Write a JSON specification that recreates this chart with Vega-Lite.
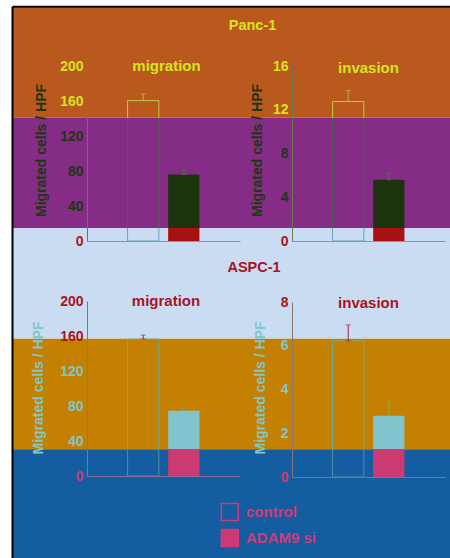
{
  "$schema": "https://vega.github.io/schema/vega-lite/v6.json",
  "width": 450,
  "height": 558,
  "autosize": "none",
  "padding": 0,
  "background": "white",
  "datasets": {
    "cells": [
      {"line": "Panc-1", "assay": "migration", "group": "control", "value": 160.5, "upper": 168},
      {"line": "Panc-1", "assay": "migration", "group": "ADAM9 si", "value": 76, "upper": 81},
      {"line": "Panc-1", "assay": "invasion", "group": "control", "value": 12.75, "upper": 13.75},
      {"line": "Panc-1", "assay": "invasion", "group": "ADAM9 si", "value": 5.6, "upper": 6.25},
      {"line": "ASPC-1", "assay": "migration", "group": "control", "value": 156.5, "upper": 161},
      {"line": "ASPC-1", "assay": "migration", "group": "ADAM9 si", "value": 74.7, "upper": 76.8},
      {"line": "ASPC-1", "assay": "invasion", "group": "control", "value": 6.22, "upper": 6.95},
      {"line": "ASPC-1", "assay": "invasion", "group": "ADAM9 si", "value": 2.8, "upper": 3.48}
    ],
    "bands": [{"band": 1}, {"band": 2}, {"band": 3}, {"band": 4}, {"band": 5}]
  },
  "data": {"name": "cells"},
  "config": {
    "view": {"stroke": null},
    "font": "Liberation Sans",
    "axis": {
      "labelFont": "Liberation Sans",
      "labelFontSize": 14,
      "labelFontWeight": "bold",
      "titleFont": "Liberation Sans",
      "titleFontSize": 14,
      "titleFontWeight": "bold",
      "ticks": false,
      "grid": false,
      "domainWidth": 1,
      "labelPadding": 4
    }
  },
  "resolve": {
    "scale": {"x": "independent", "y": "independent", "color": "independent"},
    "axis": {"x": "independent", "y": "independent"}
  },
  "layer": [
    {
      "data": {"name": "bands"},
      "mark": {"type": "bar"},
      "encoding": {
        "y": {
          "field": "band", "type": "ordinal",
          "scale": {"range": [7.2, 559.7], "paddingInner": 0, "paddingOuter": 0},
          "axis": {
            "orient": "left", "offset": -12, "labels": false, "zindex": 1,
            "domainColor": "black", "domainWidth": 2, "domainCap": "square",
            "title": "ASPC-1", "titleAngle": 0, "titleX": 241.5, "titleY": 267,
            "titleAlign": "center", "titleBaseline": "middle",
            "titleColor": "#A8141E", "titleFontSize": 14.5
          }
        },
        "x": {
          "datum": 0, "type": "quantitative",
          "scale": {"domain": [0, 1], "range": [13, 450]},
          "axis": {
            "orient": "top", "offset": -6.3, "labels": false, "zindex": 1,
            "domainColor": "black", "domainWidth": 2, "domainCap": "square",
            "title": "Panc-1", "titleX": 252, "titleY": 18.7,
            "titleAlign": "center", "titleBaseline": "middle",
            "titleColor": "#D6E41E", "titleFontSize": 14.5
          }
        },
        "x2": {"datum": 1},
        "color": {
          "field": "band", "type": "ordinal",
          "scale": {"range": ["#B9591E", "#852C87", "#CADCF2", "#C48000", "#145DA0"]},
          "legend": null
        }
      }
    },
    {
      "transform": [{"filter": "datum.line === 'Panc-1' && datum.assay === 'migration'"}],
      "encoding": {
        "x": {
          "field": "group", "type": "nominal",
          "scale": {"domain": ["control", "ADAM9 si"], "range": [87, 240], "paddingInner": 0.23, "paddingOuter": 1.15},
          "axis": {
            "orient": "bottom", "offset": -317, "labels": false, "zindex": 1, "domainColor": "#5CA6BE",
            "title": "migration", "titleX": 166, "titleY": -176, "titleAlign": "center",
            "titleBaseline": "middle", "titleColor": "#D6E41E", "titleFontSize": 15
          }
        },
        "y": {
          "field": "value", "type": "quantitative",
          "scale": {"domain": [0, 200], "range": [241, 66], "nice": false},
          "axis": {
            "orient": "left", "offset": -87, "values": [0, 40, 80, 120, 160, 200], "zindex": 1,
            "domainColor": "#6A7A48",
            "labelColor": {
              "condition": [
                {"test": "datum.value >= 140", "value": "#D6E41E"},
                {"test": "datum.value >= 15", "value": "#1C3810"}
              ],
              "value": "#A8141E"
            },
            "title": "Migrated cells / HPF", "titleColor": "#1C3810",
            "titleX": -46, "titleY": 150, "titleAlign": "center", "titleBaseline": "middle"
          }
        }
      },
      "layer": [
        {
          "transform": [{"filter": "datum.group === 'control'"}],
          "layer": [
            {"mark": {"type": "bar", "fill": "transparent", "strokeWidth": 1,
              "stroke": {"gradient": "linear", "x1": 0, "y1": 0, "x2": 0, "y2": 1, "stops": [
                {"offset": 0, "color": "#C2C84A"}, {"offset": 0.122, "color": "#C2C84A"},
                {"offset": 0.122, "color": "#4C6446"}, {"offset": 0.909, "color": "#4C6446"},
                {"offset": 0.909, "color": "#6AA2B8"}, {"offset": 1, "color": "#6AA2B8"}]}}},
            {"mark": {"type": "errorbar", "ticks": {"size": 5}, "color": "#B8C23C"},
             "encoding": {"y2": {"field": "upper"}}}
          ]
        },
        {
          "transform": [{"filter": "datum.group === 'ADAM9 si'"}],
          "layer": [
            {"mark": {"type": "bar",
              "fill": {"gradient": "linear", "x1": 0, "y1": 0, "x2": 0, "y2": 1, "stops": [
                {"offset": 0, "color": "#1C340E"}, {"offset": 0.808, "color": "#1C340E"},
                {"offset": 0.808, "color": "#A81012"}, {"offset": 1, "color": "#A81012"}]}}},
            {"mark": {"type": "errorbar", "ticks": {"size": 5}, "color": "#5A7050"},
             "encoding": {"y2": {"field": "upper"}}}
          ]
        }
      ]
    },
    {
      "transform": [{"filter": "datum.line === 'Panc-1' && datum.assay === 'invasion'"}],
      "encoding": {
        "x": {
          "field": "group", "type": "nominal",
          "scale": {"domain": ["control", "ADAM9 si"], "range": [292, 445], "paddingInner": 0.23, "paddingOuter": 1.15},
          "axis": {
            "orient": "bottom", "offset": -317, "labels": false, "zindex": 1, "domainColor": "#5CA6BE",
            "title": "invasion", "titleX": 368, "titleY": -173.3, "titleAlign": "center",
            "titleBaseline": "middle", "titleColor": "#D6E41E", "titleFontSize": 15
          }
        },
        "y": {
          "field": "value", "type": "quantitative",
          "scale": {"domain": [0, 16], "range": [241, 66], "nice": false},
          "axis": {
            "orient": "left", "offset": -292, "values": [0, 4, 8, 12, 16], "zindex": 1,
            "domainColor": "#6A7A48",
            "labelColor": {
              "condition": [
                {"test": "datum.value >= 11", "value": "#D6E41E"},
                {"test": "datum.value >= 1", "value": "#1C3810"}
              ],
              "value": "#A8141E"
            },
            "title": "Migrated cells / HPF", "titleColor": "#1C3810",
            "titleX": -35, "titleY": 150, "titleAlign": "center", "titleBaseline": "middle"
          }
        }
      },
      "layer": [
        {
          "transform": [{"filter": "datum.group === 'control'"}],
          "layer": [
            {"mark": {"type": "bar", "fill": "transparent", "strokeWidth": 1,
              "stroke": {"gradient": "linear", "x1": 0, "y1": 0, "x2": 0, "y2": 1, "stops": [
                {"offset": 0, "color": "#C2C84A"}, {"offset": 0.116, "color": "#C2C84A"},
                {"offset": 0.116, "color": "#4C6446"}, {"offset": 0.908, "color": "#4C6446"},
                {"offset": 0.908, "color": "#6AA2B8"}, {"offset": 1, "color": "#6AA2B8"}]}}},
            {"mark": {"type": "errorbar", "ticks": {"size": 5}, "color": "#B0BC40"},
             "encoding": {"y2": {"field": "upper"}}}
          ]
        },
        {
          "transform": [{"filter": "datum.group === 'ADAM9 si'"}],
          "layer": [
            {"mark": {"type": "bar",
              "fill": {"gradient": "linear", "x1": 0, "y1": 0, "x2": 0, "y2": 1, "stops": [
                {"offset": 0, "color": "#1C340E"}, {"offset": 0.791, "color": "#1C340E"},
                {"offset": 0.791, "color": "#A81012"}, {"offset": 1, "color": "#A81012"}]}}},
            {"mark": {"type": "errorbar", "ticks": {"size": 5}, "color": "#5A7050"},
             "encoding": {"y2": {"field": "upper"}}}
          ]
        }
      ]
    },
    {
      "transform": [{"filter": "datum.line === 'ASPC-1' && datum.assay === 'migration'"}],
      "encoding": {
        "x": {
          "field": "group", "type": "nominal",
          "scale": {"domain": ["control", "ADAM9 si"], "range": [87, 240], "paddingInner": 0.23, "paddingOuter": 1.15},
          "axis": {
            "orient": "bottom", "offset": -82, "labels": false, "zindex": 1, "domainColor": "#8C6C94",
            "title": "migration", "titleX": 165.5, "titleY": -176, "titleAlign": "center",
            "titleBaseline": "middle", "titleColor": "#A8141E", "titleFontSize": 15
          }
        },
        "y": {
          "field": "value", "type": "quantitative",
          "scale": {"domain": [0, 200], "range": [476, 301], "nice": false},
          "axis": {
            "orient": "left", "offset": -87, "values": [0, 40, 80, 120, 160, 200], "zindex": 1,
            "domainColor": "#8C7474",
            "labelColor": {
              "condition": [
                {"test": "datum.value >= 157", "value": "#A8141E"},
                {"test": "datum.value >= 30", "value": "#82C6CE"}
              ],
              "value": "#D03A78"
            },
            "title": "Migrated cells / HPF", "titleColor": "#82C6CE",
            "titleX": -48.5, "titleY": 387.5, "titleAlign": "center", "titleBaseline": "middle"
          }
        }
      },
      "layer": [
        {
          "transform": [{"filter": "datum.group === 'control'"}],
          "layer": [
            {"mark": {"type": "bar", "fill": "transparent", "strokeWidth": 1,
              "stroke": {"gradient": "linear", "x1": 0, "y1": 0, "x2": 0, "y2": 1, "stops": [
                {"offset": 0, "color": "#5EAEA6"}, {"offset": 0.804, "color": "#5EAEA6"},
                {"offset": 0.804, "color": "#4E8EA2"}, {"offset": 1, "color": "#4E8EA2"}]}}},
            {"mark": {"type": "errorbar", "ticks": {"size": 5}, "color": "#B0284A"},
             "encoding": {"y2": {"field": "upper"}}}
          ]
        },
        {
          "transform": [{"filter": "datum.group === 'ADAM9 si'"}],
          "layer": [
            {"mark": {"type": "bar",
              "fill": {"gradient": "linear", "x1": 0, "y1": 0, "x2": 0, "y2": 1, "stops": [
                {"offset": 0, "color": "#82C4CC"}, {"offset": 0.59, "color": "#82C4CC"},
                {"offset": 0.59, "color": "#CC3A74"}, {"offset": 1, "color": "#CC3A74"}]}}},
            {"mark": {"type": "errorbar", "ticks": {"size": 5}, "color": "#6AA8B0"},
             "encoding": {"y2": {"field": "upper"}}}
          ]
        }
      ]
    },
    {
      "transform": [{"filter": "datum.line === 'ASPC-1' && datum.assay === 'invasion'"}],
      "encoding": {
        "x": {
          "field": "group", "type": "nominal",
          "scale": {"domain": ["control", "ADAM9 si"], "range": [292, 445], "paddingInner": 0.23, "paddingOuter": 1.15},
          "axis": {
            "orient": "bottom", "offset": -81, "labels": false, "zindex": 1, "domainColor": "#8C6C94",
            "title": "invasion", "titleX": 368, "titleY": -174.3, "titleAlign": "center",
            "titleBaseline": "middle", "titleColor": "#A8141E", "titleFontSize": 15
          }
        },
        "y": {
          "field": "value", "type": "quantitative",
          "scale": {"domain": [0, 8], "range": [477, 302], "nice": false},
          "axis": {
            "orient": "left", "offset": -292, "values": [0, 2, 4, 6, 8], "zindex": 1,
            "domainColor": "#8C7474",
            "labelColor": {
              "condition": [
                {"test": "datum.value >= 6.5", "value": "#A8141E"},
                {"test": "datum.value >= 1", "value": "#82C6CE"}
              ],
              "value": "#D03A78"
            },
            "title": "Migrated cells / HPF", "titleColor": "#82C6CE",
            "titleX": -32, "titleY": 387.5, "titleAlign": "center", "titleBaseline": "middle"
          }
        }
      },
      "layer": [
        {
          "transform": [{"filter": "datum.group === 'control'"}],
          "layer": [
            {"mark": {"type": "bar", "fill": "transparent", "strokeWidth": 1,
              "stroke": {"gradient": "linear", "x1": 0, "y1": 0, "x2": 0, "y2": 1, "stops": [
                {"offset": 0, "color": "#5EAEA6"}, {"offset": 0.796, "color": "#5EAEA6"},
                {"offset": 0.796, "color": "#4E8EA2"}, {"offset": 1, "color": "#4E8EA2"}]}}},
            {"mark": {"type": "errorbar", "ticks": {"size": 5}, "color": "#A8203C"},
             "encoding": {"y2": {"field": "upper"}}}
          ]
        },
        {
          "transform": [{"filter": "datum.group === 'ADAM9 si'"}],
          "layer": [
            {"mark": {"type": "bar",
              "fill": {"gradient": "linear", "x1": 0, "y1": 0, "x2": 0, "y2": 1, "stops": [
                {"offset": 0, "color": "#82C4CC"}, {"offset": 0.546, "color": "#82C4CC"},
                {"offset": 0.546, "color": "#CC3A74"}, {"offset": 1, "color": "#CC3A74"}]}}},
            {"mark": {"type": "errorbar", "ticks": {"size": 5}, "color": "#98A838"},
             "encoding": {"y2": {"field": "upper"}}}
          ]
        }
      ]
    },
    {
      "transform": [{"filter": "datum.line === 'ASPC-1' && datum.assay === 'invasion'"}],
      "encoding": {
        "y": {
          "field": "group", "type": "nominal",
          "scale": {"domain": ["control", "ADAM9 si"], "range": [512, 538], "padding": 0},
          "axis": null
        },
        "x": {
          "datum": 0, "type": "quantitative",
          "scale": {"domain": [0, 1], "range": [229.8, 246]},
          "axis": null
        }
      },
      "layer": [
        {
          "mark": {"type": "square", "size": 289, "stroke": "#D03A78", "strokeWidth": 1.5, "opacity": 1},
          "encoding": {
            "fill": {"condition": {"test": "datum.group === 'ADAM9 si'", "value": "#CC3A74"}, "value": "transparent"}
          }
        },
        {
          "mark": {"type": "text", "align": "left", "baseline": "middle", "fontSize": 15, "fontWeight": "bold", "color": "#D03A78", "font": "Liberation Sans"},
          "encoding": {
            "x": {"datum": 1, "type": "quantitative"},
            "text": {"field": "group"}
          }
        }
      ]
    }
  ]
}
